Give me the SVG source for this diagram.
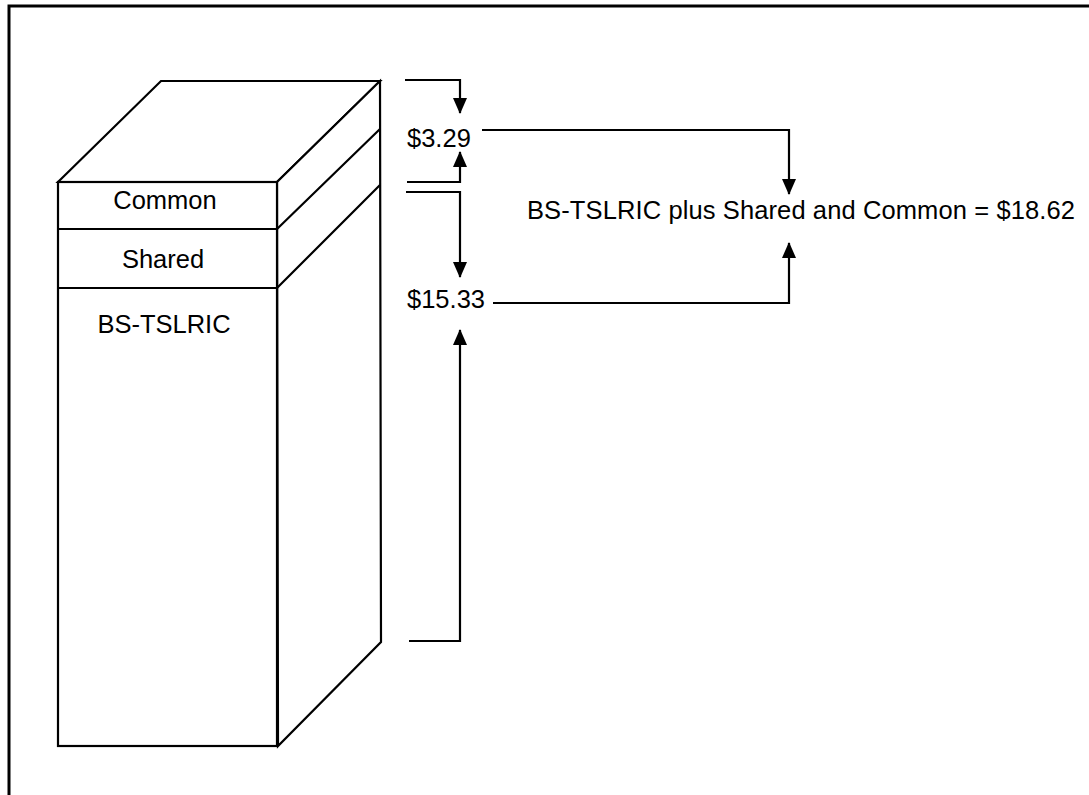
<svg xmlns="http://www.w3.org/2000/svg" width="1089" height="795" viewBox="0 0 1089 795">
<style>
.ln{fill:none;stroke:#000;stroke-width:2.2;stroke-linejoin:miter}
.face{fill:#fff;stroke:#000;stroke-width:2.2;stroke-linejoin:miter}
.t{font-family:"Liberation Sans",Arial,sans-serif;font-size:25.5px;fill:#000}
.c{text-anchor:middle}
</style>
<defs>
<marker id="ah" markerUnits="userSpaceOnUse" markerWidth="16" markerHeight="14" refX="15" refY="7" orient="auto" viewBox="0 0 16 14">
<path d="M0,0 L16,7 L0,14 Z" fill="#000"/>
</marker>
</defs>
<rect width="1089" height="795" fill="#fff"/>
<g id="frame">
<path d="M9,795 V6 H1089" fill="none" stroke="#000" stroke-width="3"/>
</g>
<g id="cube">
<polygon class="face" points="58,182 161,81 380,81 277,182"/>
<polygon class="face" points="277,182 380,81 381,642 278,746"/>
<rect class="face" x="58" y="182" width="219" height="564"/>
<path class="ln" d="M277,229 L380,129 M277,288 L380,185"/>
</g>
<g id="common">
<line class="ln" x1="58" y1="229" x2="277" y2="229"/>
<text class="t c" x="165" y="209">Common</text>
</g>
<g id="shared">
<line class="ln" x1="58" y1="288" x2="277" y2="288"/>
<text class="t c" x="163" y="268">Shared</text>
</g>
<g id="bs-tslric">
<text class="t c" x="164" y="333">BS-TSLRIC</text>
</g>
<g id="label-329">
<text class="t" x="407" y="147">$3.29</text>
</g>
<g id="label-1533">
<text class="t" x="407" y="308">$15.33</text>
</g>
<g id="total">
<text class="t" x="527" y="219" textLength="548" lengthAdjust="spacing">BS-TSLRIC plus Shared and Common = $18.62</text>
</g>
<g id="connectors">
<path class="ln" d="M405,80 H460 V113" marker-end="url(#ah)"/>
<path class="ln" d="M407,182 H460 V152" marker-end="url(#ah)"/>
<path class="ln" d="M406,192 H460 V277" marker-end="url(#ah)"/>
<path class="ln" d="M409,641 H460 V330" marker-end="url(#ah)"/>
<path class="ln" d="M482,130 H789 V194" marker-end="url(#ah)"/>
<path class="ln" d="M493,303 H789 V243" marker-end="url(#ah)"/>
</g>
</svg>
